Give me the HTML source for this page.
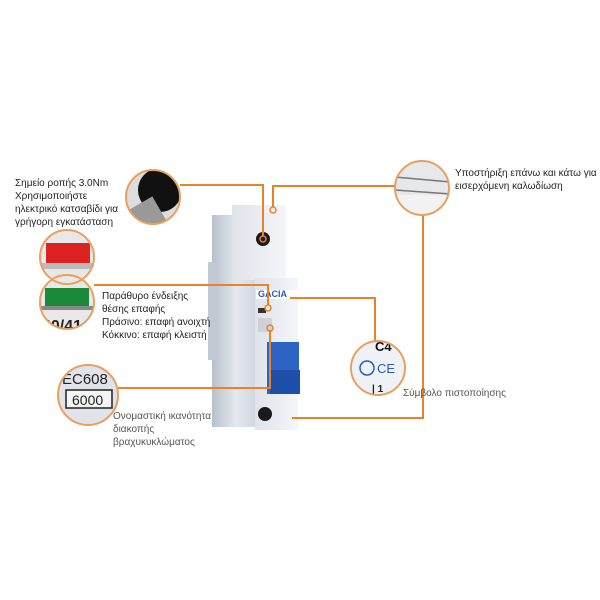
<!DOCTYPE html>
<html><head><meta charset="utf-8"><style>
body{margin:0;width:600px;height:600px;background:#fff;position:relative;overflow:hidden;font-family:"Liberation Sans",sans-serif;}
.t{position:absolute;font-size:10px;line-height:13px;color:#222;white-space:nowrap}
.g{color:#555}
</style></head><body>
<svg width="600" height="600" style="position:absolute;left:0;top:0">
<defs>
<linearGradient id="bd" x1="0" x2="1"><stop offset="0" stop-color="#b8c0cc"/><stop offset="0.5" stop-color="#e4e8ee"/><stop offset="1" stop-color="#cfd5dd"/></linearGradient>
<linearGradient id="fr" x1="0" x2="1"><stop offset="0" stop-color="#dfe3ea"/><stop offset="1" stop-color="#f4f6f9"/></linearGradient>
<clipPath id="c1"><circle cx="153" cy="197" r="27"/></clipPath>
<clipPath id="c2"><circle cx="422" cy="188" r="27"/></clipPath>
<clipPath id="c3"><circle cx="67" cy="257" r="27"/></clipPath>
<clipPath id="c4"><circle cx="67" cy="302" r="27"/></clipPath>
<clipPath id="c5"><circle cx="378" cy="368" r="27"/></clipPath>
<clipPath id="c6"><circle cx="88" cy="395" r="30"/></clipPath>
</defs>
<!-- breaker -->
<rect x="212" y="215" width="48" height="212" fill="url(#bd)"/>
<rect x="208" y="262" width="8" height="98" fill="#c3c9d2"/>
<rect x="232" y="205" width="54" height="75" fill="url(#fr)"/>
<rect x="255" y="278" width="43" height="152" fill="url(#fr)"/>
<rect x="256" y="290" width="42" height="9" fill="#fff"/>
<text x="258" y="297" font-size="9" font-weight="bold" fill="#2a5db0">GACIA</text>
<rect x="258" y="308" width="8" height="5" fill="#333"/>
<rect x="258" y="318" width="14" height="14" fill="#bbb" opacity="0.5"/>
<rect x="267" y="342" width="32" height="52" fill="#2c63c4"/>
<rect x="270" y="370" width="30" height="24" fill="#1d4ea8"/>
<circle cx="263" cy="239" r="7" fill="#1a1a1a"/>
<circle cx="265" cy="414" r="7" fill="#1a1a1a"/>
<!-- connectors -->
<g stroke="#e8832a" stroke-width="2" fill="none">
<polyline points="395,186 273,186 273,207"/>
<polyline points="423,215 423,418 292,418"/>
<polyline points="180,185 263,185 263,236"/>
<polyline points="94,285 268,285 268,305"/>
<polyline points="290,298 375,298 375,341"/>
<polyline points="118,388 270,388 270,330"/>
</g>
<g stroke="#e8832a" stroke-width="1.5" fill="none">
<circle cx="273" cy="210" r="3"/><circle cx="263" cy="239" r="3"/>
<circle cx="268" cy="308" r="3"/><circle cx="270" cy="328" r="3"/>
</g>
<!-- circles -->
<circle cx="153" cy="197" r="27" fill="#ddd"/>
<circle cx="422" cy="188" r="27" fill="#e6e8ea"/>
<circle cx="67" cy="257" r="27" fill="#e8e8e8"/>
<circle cx="67" cy="302" r="27" fill="#e8e8e8"/>
<circle cx="378" cy="368" r="27" fill="#eef2f6"/>
<circle cx="88" cy="395" r="30" fill="#e0e4ea"/>
<g clip-path="url(#c1)"><ellipse cx="160" cy="190" rx="22" ry="22" fill="#111"/><rect x="120" y="205" width="40" height="30" fill="#999" transform="rotate(-30 140 215)"/></g>
<g clip-path="url(#c2)"><path d="M395 177 L450 182 M395 190 L450 194" stroke="#777" stroke-width="1.5"/><rect x="395" y="195" width="60" height="25" fill="#f2f2f2"/></g>
<g clip-path="url(#c3)"><rect x="46" y="243" width="44" height="20" fill="#d22"/><rect x="40" y="263" width="60" height="6" fill="#bbb"/></g>
<g clip-path="url(#c4)"><rect x="45" y="288" width="44" height="18" fill="#1a8a3a"/><rect x="40" y="306" width="60" height="4" fill="#888"/><text x="42" y="331" font-size="16" font-weight="bold" fill="#222">40/41</text></g>
<g clip-path="url(#c5)"><text x="375" y="351" font-size="13" font-weight="bold" fill="#111">C4</text><circle cx="367" cy="368" r="7" fill="none" stroke="#2a5db0" stroke-width="1.5"/><text x="377" y="373" font-size="13" fill="#2a5db0">CE</text><text x="372" y="392" font-size="10" font-weight="bold" fill="#222">| 1</text></g>
<g clip-path="url(#c6)"><text x="62" y="384" font-size="15" fill="#222">EC608</text><rect x="66" y="390" width="46" height="18" fill="#f4f4f4" stroke="#222" stroke-width="1.5"/><text x="72" y="405" font-size="14" fill="#222">6000</text></g>
<g stroke="#e8a060" stroke-width="2" fill="none">
<circle cx="153" cy="197" r="27"/><circle cx="422" cy="188" r="27"/><circle cx="67" cy="257" r="27"/>
<circle cx="67" cy="302" r="27"/><circle cx="378" cy="368" r="27"/><circle cx="88" cy="395" r="30"/>
</g>
</svg>
<div class="t" style="left:15px;top:177px">Σημείο ροπής 3.0Nm<br>Χρησιμοποιήστε<br>ηλεκτρικό κατσαβίδι για<br>γρήγορη εγκατάσταση</div>
<div class="t" style="left:102px;top:290px">Παράθυρο ένδειξης<br>θέσης επαφής<br>Πράσινο: επαφή ανοιχτή<br>Κόκκινο: επαφή κλειστή</div>
<div class="t g" style="left:113px;top:410px">Ονομαστική ικανότητα<br>διακοπής<br>βραχυκυκλώματος</div>
<div class="t" style="left:455px;top:167px">Υποστήριξη επάνω και κάτω για<br>εισερχόμενη καλωδίωση</div>
<div class="t g" style="left:403px;top:387px">Σύμβολο πιστοποίησης</div>
</body></html>
